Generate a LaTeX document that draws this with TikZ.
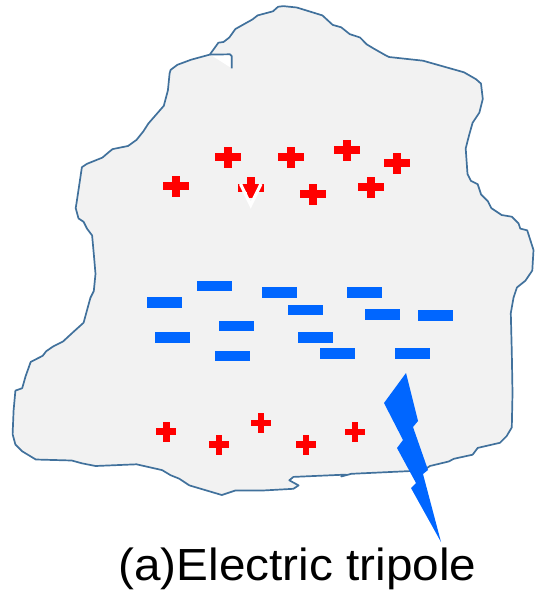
\documentclass[tikz,border=0pt]{standalone}
\usepackage{fontspec}
\setmainfont{Liberation Sans}
\begin{document}
\begin{tikzpicture}[x=1pt,y=-1pt,
  outline/.style={draw=blobline,line width=1.7pt,line join=round,line cap=round,fill=blobfill},
  negbar/.style={fill=chargeblue,draw=none,minimum width=35pt,minimum height=10.6pt,inner sep=0pt,outer sep=0pt},
  bolt/.style={fill=chargeblue,draw=none},
  caption/.style={font=\fontsize{45}{54}\selectfont,anchor=base,inner sep=0pt,xscale=1.06},
  bigplus/.pic={
    \fill[chargered] (-13,-4) rectangle (13,4);
    \fill[chargered] (-4,-10.5) rectangle (4,10.5);
  },
  smallplus/.pic={
    \fill[chargered] (-10,-3.3) rectangle (10,3.3);
    \fill[chargered] (-3.3,-10) rectangle (3.3,10);
  }]
\definecolor{blobline}{HTML}{41719C}
\definecolor{blobfill}{HTML}{F2F2F2}
\definecolor{chargered}{HTML}{FF0000}
\definecolor{chargeblue}{HTML}{0066FF}
\useasboundingbox (0,0) rectangle (535,595);

% rough-edged body
\path[outline] (209.8,54.6) -- (218.4,42.7) -- (223.5,42) -- (229.3,37.5) -- (235.4,29)
  -- (252.5,19.4) -- (257.6,15.4) -- (273,11.3) -- (278,6.8) -- (283.2,6.1)
  -- (296.8,7.5) -- (322.4,15.4) -- (332.7,24.9) -- (341.2,27.3) -- (349.7,34.1)
  -- (360,37.5) -- (366.8,44.4) -- (373.6,48.5) -- (385.6,55.3) -- (389,57)
  -- (423,60.7) -- (464,72.3) -- (476,79.2) -- (481,83.6) -- (482.8,99)
  -- (479.4,112.6) -- (472.6,122.8) -- (469.2,134.8) -- (465.7,148.4) -- (467.5,174)
  -- (470.9,180.8) -- (477.7,184.2) -- (481.1,194.5) -- (487.9,201.3) -- (491.3,208.1)
  -- (501.6,215) -- (511.8,216.7) -- (518.6,223.5) -- (520.3,228.6) -- (527.2,230.3)
  -- (533.5,250) -- (532.3,270.5) -- (525.4,280.7) -- (516.9,287.5) -- (513.5,297.8)
  -- (510.8,313.1) -- (511.8,352.4) -- (512.5,393.3) -- (511.8,427.4) -- (506.7,436)
  -- (499.9,442.8) -- (477.7,447.9) -- (472.6,454.7) -- (453.8,458.8) -- (448.7,461.5)
  -- (429.9,466) -- (426.5,468.4) -- (409.4,471.1) -- (351.4,473.8) -- (341.2,476.5)
  -- (346,474.6) -- (293.4,476.9) -- (289.3,480.3) -- (298.6,485.4) -- (293.4,488.8)
  -- (262.7,490.5) -- (235.4,490.5) -- (221.8,495) -- (189.4,485.4) -- (179.1,478.6)
  -- (170.6,475.2) -- (162.1,470.1) -- (136.5,464.3) -- (95.5,466) -- (81.9,463.3)
  -- (71.7,460.5) -- (35.8,459.5) -- (22.2,451.3) -- (15.4,444.5) -- (12.6,434.2)
  -- (13.6,410.4) -- (15.4,390.6) -- (22.2,388.2) -- (25.6,376.2) -- (30.7,361.9)
  -- (42.7,355.8) -- (46.1,351.3) -- (52.9,346.6) -- (63.1,341.4) -- (73.4,331.9)
  -- (83.6,322.7) -- (90.4,297.8) -- (93.8,291) -- (95.5,273.9) -- (93.8,254)
  -- (92.1,235.4) -- (87,228.6) -- (83.6,221.8) -- (78.5,218.4) -- (75.7,208.1)
  -- (76.8,201.3) -- (81.9,167.2) -- (87,163.8) -- (102.4,157.6) -- (109.2,151.8)
  -- (112.6,149.1) -- (128,146) -- (136.5,139.9) -- (143.3,131.4) -- (148.4,123.5)
  -- (163.8,105.8) -- (167.9,90.4) -- (169.6,73.4) -- (170.6,69.9) -- (177.4,64.8)
  -- (191.1,59.7) -- cycle;
% small fold at the top-left
\fill[white] (210.5,54.8) -- (230.5,55.2) -- (230.5,67.5) -- cycle;
\draw[blobline,line width=1.7pt,line join=round] (209.8,54.6) -- (230,54.3) -- (231.7,56) -- (231.7,68.3);

% positive charges, upper layer
\pic at (228,157) {bigplus};
\pic at (291,157) {bigplus};
\pic at (347,150) {bigplus};
\pic at (397,163) {bigplus};
\pic at (176,186) {bigplus};
\pic at (250.5,187.5) {bigplus};
\pic at (313,194) {bigplus};
\pic at (371,187) {bigplus};
\draw[white,line width=3.2pt] (240.5,184) -- (250.7,205) -- (261,184);

% negative charges, middle layer
\node[negbar] (n1) at (164.6,302.5) {};
\node[negbar] (n2) at (214.4,285.8) {};
\node[negbar] (n3) at (279.6,292.7) {};
\node[negbar] (n4) at (364.6,292.7) {};
\node[negbar] (n5) at (305.2,310.1) {};
\node[negbar] (n6) at (382.7,314.7) {};
\node[negbar] (n7) at (435.2,315.6) {};
\node[negbar] (n8) at (236.6,326.1) {};
\node[negbar] (n9) at (172.2,337.4) {};
\node[negbar] (n10) at (315.1,337.6) {};
\node[negbar] (n11) at (232.9,355.8) {};
\node[negbar] (n12) at (337,353.2) {};
\node[negbar] (n13) at (412.6,353.2) {};

% positive charges, lower layer
\pic at (166.2,431.5) {smallplus};
\pic at (219,444.5) {smallplus};
\pic at (261,423) {smallplus};
\pic at (306,444.5) {smallplus};
\pic at (354.8,431.9) {smallplus};

% lightning bolt
\fill[bolt] (406,373) -- (418,421) -- (413,427) -- (428,470) -- (423,474) -- (441,542)
  -- (411,488) -- (416,483) -- (397,448) -- (403,440) -- (384,403) -- cycle;

\node[caption] (cap) at (297.5,580) {(a)Electric tripole};
\end{tikzpicture}
\end{document}
